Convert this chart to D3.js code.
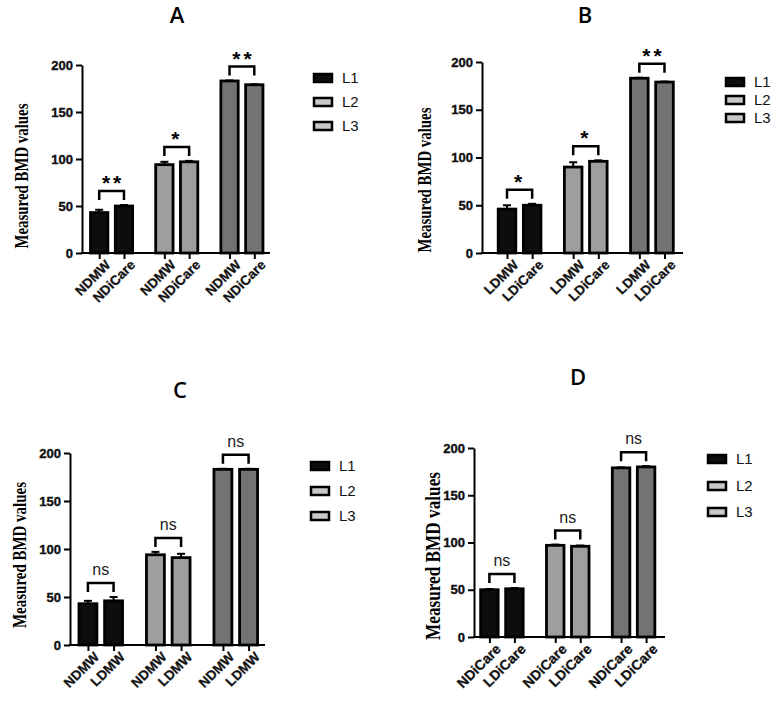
<!DOCTYPE html>
<html>
<head>
<meta charset="utf-8">
<script src="https://cdn.jsdelivr.net/npm/d3@7"></script>
<style>
  body { margin: 0; background: #fff; }
  text { font-family: "Liberation Sans", Arial, sans-serif; }
</style>
</head>
<body>
<div id="chart"></div>
<script>
// series / categories
const levels = ["L1", "L2", "L3"];
const panelTitles = ["A", "B", "C", "D"];
const yTicks = [0, 50, 100, 150, 200];
const yLabel = "Measured BMD values";

// bar labels per panel (first, second bar of each level group)
const labelsA = ["NDMW", "NDiCare"];
const labelsB = ["LDMW", "LDiCare"];
const labelsC = ["NDMW", "LDMW"];
const labelsD = ["NDiCare", "LDiCare"];

// means [level][bar]
const meansA = [[43, 50], [94, 97], [183, 179]];
const meansB = [[46, 50], [90, 96], [183, 179]];
const meansC = [[43, 46], [94, 91], [183, 183]];
const meansD = [[50, 51], [97, 96], [179, 180]];

// error (upper only)
const errA = [[3, 1], [3, 1], [0.5, 0.5]];
const errB = [[4, 1.5], [5, 1], [0.5, 0.5]];
const errC = [[3, 4], [3, 4], [0.5, 0.5]];
const errD = [[0.8, 0.8], [0.8, 0.8], [0.5, 0.8]];

// significance marks per level
const sigA = ["**", "*", "**"];
const sigB = ["*", "*", "**"];
const sigC = ["ns", "ns", "ns"];
const sigD = ["ns", "ns", "ns"];

const colors = { L1: "#0d0d0d", L2: "#9e9e9e", L3: "#737373" };

const W = 780, H = 703;
const svg = d3.select("#chart").append("svg")
  .attr("width", W).attr("height", H);

// layout of each panel (pixel geometry only)
const layout = [
  { axisX: 82, xEnd: 270, yTop: 65, y0: 253, g: [79, 274.5], title: [177, 23], legX: 313, legY: [78, 102, 126],
    lab: { x: 22, y: 176, len: 145, size: 18 }, tickSize: 13.5 },
  { axisX: 482, xEnd: 683, yTop: 62, y0: 253, g: [486.5, 685], title: [585, 23], legX: 725, legY: [82, 100, 118],
    lab: { x: 425, y: 180, len: 145, size: 18 }, tickSize: 13.5 },
  { axisX: 70, xEnd: 265, yTop: 453, y0: 645, g: [67, 269.5], title: [180, 398], legX: 310, legY: [466, 491, 516],
    lab: { x: 20, y: 555, len: 146, size: 18 }, tickSize: 13.5 },
  { axisX: 474, xEnd: 665, yTop: 448, y0: 637, g: [469, 666.5], title: [578, 385], legX: 707, legY: [459, 486, 512],
    lab: { x: 433, y: 556, len: 168, size: 20 }, tickSize: 14 }
];

const panels = [
  { labels: labelsA, means: meansA, errs: errA, sig: sigA },
  { labels: labelsB, means: meansB, errs: errB, sig: sigB },
  { labels: labelsC, means: meansC, errs: errC, sig: sigC },
  { labels: labelsD, means: meansD, errs: errD, sig: sigD }
];

panels.forEach((p, i) => drawPanel(p, layout[i], panelTitles[i]));

function drawPanel(p, L, title) {
  const g = svg.append("g");

  const y = d3.scaleLinear().domain([0, 200]).range([L.y0, L.yTop]);
  const x0 = d3.scaleBand().domain(levels).range(L.g);
  const gw = x0.bandwidth();
  const x1 = d3.scaleBand().domain([0, 1]).range([0.177 * gw, 0.823 * gw]).paddingInner(0.3);

  // rows for bars
  const rows = [];
  levels.forEach((lv, li) => {
    [0, 1].forEach(bi => {
      rows.push({ id: lv + "-" + bi, level: lv, bar: bi, label: p.labels[bi],
        mean: p.means[li][bi], err: p.errs[li][bi] });
    });
  });
  const cx = d => x0(d.level) + x1(d.bar) + x1.bandwidth() / 2;

  // title
  g.append("text")
    .attr("x", L.title[0]).attr("y", L.title[1])
    .attr("text-anchor", "middle")
    .style("font-family", "'Open Sans', sans-serif")
    .style("font-size", "22px")
    .style("font-weight", 600)
    .text(title);

  // y label
  g.append("text")
    .attr("transform", `translate(${L.lab.x},${L.lab.y}) rotate(-90)`)
    .attr("text-anchor", "middle")
    .attr("dy", "0.35em")
    .attr("textLength", L.lab.len)
    .attr("lengthAdjust", "spacingAndGlyphs")
    .style("font-family", "'Liberation Serif', 'Times New Roman', serif")
    .style("font-weight", "bold")
    .style("font-size", L.lab.size + "px")
    .text(yLabel);

  // bars
  g.selectAll("rect.bar")
    .data(rows)
    .join("rect")
    .attr("class", "bar")
    .attr("x", d => x0(d.level) + x1(d.bar))
    .attr("width", x1.bandwidth())
    .attr("y", d => y(d.mean))
    .attr("height", d => y(0) - y(d.mean))
    .attr("fill", d => colors[d.level])
    .attr("stroke", "#000")
    .attr("stroke-width", 2.8);

  // error bars (upper)
  const eb = g.selectAll("g.err").data(rows).join("g").attr("class", "err")
    .attr("stroke", "#000").attr("stroke-width", 2);
  eb.append("line")
    .attr("x1", cx).attr("x2", cx)
    .attr("y1", d => y(d.mean)).attr("y2", d => y(d.mean + d.err));
  eb.append("line")
    .attr("x1", d => cx(d) - 4).attr("x2", d => cx(d) + 4)
    .attr("y1", d => y(d.mean + d.err)).attr("y2", d => y(d.mean + d.err));

  // y axis
  const yAxis = g.append("g")
    .attr("transform", `translate(${L.axisX},0)`)
    .call(d3.axisLeft(y).tickValues(yTicks).tickSize(6).tickSizeOuter(0).tickPadding(3));
  yAxis.selectAll("path, line").attr("stroke", "#000").attr("stroke-width", 2);
  yAxis.selectAll("text")
    .style("font-family", "'Liberation Sans', Arial, sans-serif")
    .style("font-weight", "bold").style("font-size", "13px")
    .attr("fill", "#111").attr("stroke", "#111").attr("stroke-width", 0.4);

  // x axis: ordinal scale of bar centres
  const xTick = d3.scaleOrdinal().domain(rows.map(d => d.id)).range(rows.map(cx));
  const xAxis = g.append("g")
    .attr("transform", `translate(0,${L.y0})`)
    .call(d3.axisBottom(xTick).tickSize(6).tickSizeOuter(0).tickFormat(id => rows.find(r => r.id === id).label));
  xAxis.select(".domain").remove();
  xAxis.selectAll("line").attr("stroke", "#000").attr("stroke-width", 2);
  xAxis.selectAll("text")
    .attr("text-anchor", "end")
    .attr("transform", "translate(5,6) rotate(-45)")
    .attr("dy", "0.7em")
    .attr("y", 0)
    .style("font-family", "'Liberation Sans', Arial, sans-serif")
    .style("font-weight", "bold").style("font-size", L.tickSize + "px")
    .attr("fill", "#111").attr("stroke", "#111").attr("stroke-width", 0.3);
  g.append("line")
    .attr("x1", L.axisX - 1).attr("x2", L.xEnd)
    .attr("y1", L.y0).attr("y2", L.y0)
    .attr("stroke", "#000").attr("stroke-width", 2);

  // significance brackets
  levels.forEach((lv, li) => {
    const pair = rows.filter(r => r.level === lv);
    const top = d3.max(pair, r => r.mean + r.err);
    const bottom = y(top) - 5;
    const yb = bottom - 9;
    const xa = cx(pair[0]), xb = cx(pair[1]);
    g.append("path")
      .attr("d", d3.line()([[xa, bottom], [xa, yb], [xb, yb], [xb, bottom]]))
      .attr("fill", "none").attr("stroke", "#000").attr("stroke-width", 2.5);
    const s = p.sig[li];
    const t = g.append("text")
      .attr("x", (xa + xb) / 2)
      .attr("text-anchor", "middle")
      .text(s);
    if (s === "ns") {
      t.attr("y", yb - 8).style("font-size", "16px").attr("fill", "#222");
    } else {
      t.attr("y", yb - 1).style("font-size", "21px").style("font-weight", "bold")
        .style("letter-spacing", "3px").attr("dx", s.length > 1 ? 1.5 : 0);
    }
  });

  // legend
  const leg = g.selectAll("g.leg").data(levels).join("g").attr("class", "leg")
    .attr("transform", (d, k) => `translate(${L.legX},${L.legY[k]})`);
  leg.append("rect")
    .attr("x", 1).attr("y", -4).attr("width", 18).attr("height", 8)
    .attr("fill", d => d === "L1" ? colors.L1 : "#c8c8c8")
    .attr("stroke", "#000").attr("stroke-width", 2.5);
  leg.append("text")
    .attr("x", 29).attr("y", 0).attr("dy", "0.36em")
    .style("font-size", "15px").attr("fill", "#111")
    .text(d => d);
}
</script>
</body>
</html>
